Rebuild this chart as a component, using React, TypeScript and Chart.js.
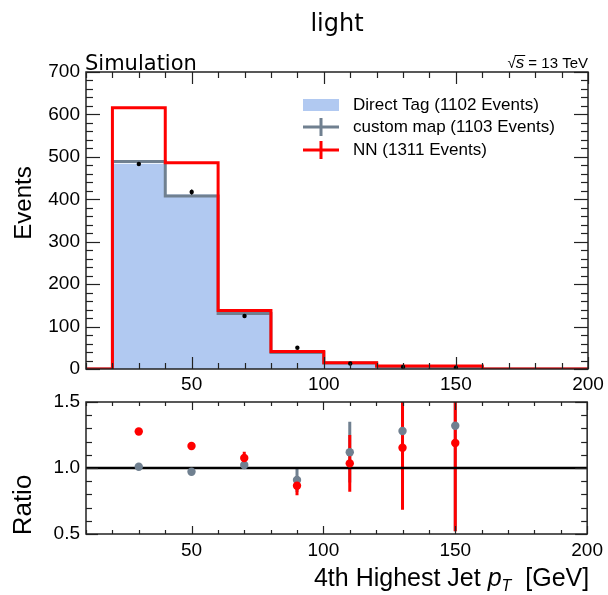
import React, { useEffect, useRef } from 'react';
import { Chart, registerables } from 'chart.js';

Chart.register(...registerables);

// ---------------- data ----------------
const X_MIN = 10;
const X_MAX = 200;
const binEdges = [20, 40, 60, 80, 100, 120, 140, 160];
const binCenters = [30, 50, 70, 90, 110, 130, 150];
const directTag = [484, 411, 129, 38, 13, 5, 3];
const customMap = [489, 408, 131, 39, 14, 6, 4];
const nnValues = [616, 486, 138, 41, 15, 7, 7];
const markerValues = [483, 417, 125, 50, 13, 5, 3];
const markerErrors = [3, 6, 3, 3, 1, 1, 1];
const ratioCustom = [1.01, 0.972, 1.023, 0.909, 1.12, 1.28, 1.32];
const ratioCustomErr = [0.01, 0.01, 0.03, 0.09, 0.23, 0.4, 0.8];
const ratioNN = [1.276, 1.167, 1.076, 0.866, 1.035, 1.154, 1.19];
const ratioNNErr = [0.01, 0.01, 0.047, 0.072, 0.215, 0.47, 0.67];
const xTickValues = [50, 100, 150, 200];
const yTickValuesTop = [0, 100, 200, 300, 400, 500, 600, 700];
const yTickValuesRatio = [0.5, 1.0, 1.5];
const legendLabels = ['Direct Tag (1102 Events)', 'custom map (1103 Events)', 'NN (1311 Events)'];
const titleText = 'light';
const simText = 'Simulation';
const yTitleTop = 'Events';
const yTitleRatio = 'Ratio';

// ---------------- styles ----------------
const FONT = '"Liberation Sans", Arial, Helvetica, sans-serif';
const DFONT = '"DejaVu Sans", sans-serif';
const BLUE = 'rgb(177, 201, 241)';
const GRAY = 'rgb(112, 128, 144)';
const RED = 'rgb(255, 0, 0)';
const RATIO_TOP = 380;

function stepPoints(vals: number[]) {
  const pts: { x: number; y: number }[] = [{ x: X_MIN, y: 0 }];
  vals.forEach((v, i) => pts.push({ x: binEdges[i], y: v }));
  pts.push({ x: binEdges[binEdges.length - 1], y: 0 });
  pts.push({ x: X_MAX, y: 0 });
  return pts;
}

function drawFrameAndTicks(chart: any, cfg: any) {
  const { ctx, chartArea: a, scales } = chart;
  const xs = scales.x;
  const ys = scales.y;
  ctx.save();
  ctx.strokeStyle = '#222';
  ctx.lineWidth = 1.2;
  const seg = (x1: number, y1: number, x2: number, y2: number) => {
    ctx.beginPath();
    ctx.moveTo(x1, y1);
    ctx.lineTo(x2, y2);
    ctx.stroke();
  };
  const nx = Math.round((xs.max - xs.min) / cfg.xMinor);
  for (let i = 0; i <= nx; i++) {
    const v = xs.min + i * cfg.xMinor;
    const px = Math.round(xs.getPixelForValue(v)) + 0.5;
    const major = xTickValues.some((m) => Math.abs(m - v) < 1e-6);
    const L = major ? cfg.xMajLen : cfg.xMinLen;
    seg(px, a.bottom, px, a.bottom - L);
    seg(px, a.top, px, a.top + L);
  }
  const ny = Math.round((ys.max - ys.min) / cfg.yMinor);
  for (let i = 0; i <= ny; i++) {
    const v = ys.min + i * cfg.yMinor;
    const py = Math.round(ys.getPixelForValue(v)) + 0.5;
    const major = cfg.yMajors.some((m: number) => Math.abs(m - v) < 1e-6);
    const L = major ? cfg.yMajLen : cfg.yMinLen;
    seg(a.left, py, a.left + L, py);
    seg(a.right, py, a.right - L, py);
  }
  ctx.lineWidth = 1.5;
  ctx.strokeRect(a.left, a.top, a.right - a.left, a.bottom - a.top);
  ctx.restore();
}

function drawRotated(ctx: any, text: string, x: number, y: number, font: string) {
  ctx.save();
  ctx.translate(x, y);
  ctx.rotate(-Math.PI / 2);
  ctx.font = font;
  ctx.fillStyle = '#000';
  ctx.textAlign = 'center';
  ctx.textBaseline = 'alphabetic';
  ctx.fillText(text, 0, 0);
  ctx.restore();
}

const topPlugin = {
  id: 'topDecor',
  afterDatasetsDraw(chart: any) {
    const { ctx, scales } = chart;
    const xs = scales.x;
    const ys = scales.y;
    ctx.save();
    ctx.strokeStyle = '#000';
    ctx.lineWidth = 1.5;
    binCenters.forEach((c, i) => {
      const px = xs.getPixelForValue(c);
      ctx.beginPath();
      ctx.moveTo(px, ys.getPixelForValue(markerValues[i] - markerErrors[i]));
      ctx.lineTo(px, ys.getPixelForValue(markerValues[i] + markerErrors[i]));
      ctx.stroke();
    });
    ctx.restore();
  },
  afterDraw(chart: any) {
    const { ctx, chartArea: a } = chart;
    drawFrameAndTicks(chart, {
      xMinor: 10, yMinor: 20, yMajors: yTickValuesTop,
      xMajLen: 12, xMinLen: 6, yMajLen: 14, yMinLen: 7,
    });
    ctx.save();
    ctx.fillStyle = '#000';
    // title
    ctx.font = `24px ${DFONT}`;
    ctx.textAlign = 'center';
    ctx.textBaseline = 'alphabetic';
    ctx.fillText(titleText, (a.left + a.right) / 2, 31);
    // Simulation
    ctx.font = `21px ${DFONT}`;
    ctx.textAlign = 'left';
    ctx.fillText(simText, a.left - 1, 70);
    // sqrt(s) = 13 TeV
    const parts = [
      { t: '\u221A', f: `15px ${FONT}` },
      { t: 's', f: `italic 17px ${FONT}` },
      { t: ' = 13 TeV', f: `15px ${FONT}` },
    ];
    let total = 0;
    const widths = parts.map((p) => {
      ctx.font = p.f;
      const w = ctx.measureText(p.t).width;
      total += w;
      return w;
    });
    let x = a.right - total;
    parts.forEach((p, i) => {
      ctx.font = p.f;
      ctx.fillText(p.t, x, 68);
      if (i === 1) {
        ctx.strokeStyle = '#000';
        ctx.lineWidth = 1;
        ctx.beginPath();
        ctx.moveTo(x - 1, 55.5);
        ctx.lineTo(x + widths[i] + 1, 55.5);
        ctx.stroke();
      }
      x += widths[i];
    });
    // legend
    const lx0 = 303;
    const lx1 = 339;
    const rows = [105, 127, 150];
    ctx.fillStyle = BLUE;
    ctx.fillRect(lx0, rows[0] - 6, lx1 - lx0, 12);
    [GRAY, RED].forEach((col, k) => {
      const yy = rows[k + 1];
      ctx.strokeStyle = col;
      ctx.lineWidth = 3;
      ctx.beginPath();
      ctx.moveTo(lx0, yy);
      ctx.lineTo(lx1, yy);
      ctx.moveTo((lx0 + lx1) / 2, yy - 9);
      ctx.lineTo((lx0 + lx1) / 2, yy + 9);
      ctx.stroke();
    });
    ctx.fillStyle = '#000';
    ctx.font = `17px ${FONT}`;
    ctx.textAlign = 'left';
    ctx.textBaseline = 'middle';
    legendLabels.forEach((lab, k) => ctx.fillText(lab, 353, rows[k]));
    ctx.restore();
    drawRotated(ctx, yTitleTop, 31, 203, `24px ${FONT}`);
  },
};

const ratioPlugin = {
  id: 'ratioDecor',
  beforeDatasetsDraw(chart: any) {
    const { ctx, chartArea: a, scales } = chart;
    const xs = scales.x;
    const ys = scales.y;
    ctx.save();
    ctx.beginPath();
    ctx.rect(a.left, a.top, a.right - a.left, a.bottom - a.top);
    ctx.clip();
    ctx.lineWidth = 3;
    const bars = (vals: number[], errs: number[], col: string) => {
      ctx.strokeStyle = col;
      binCenters.forEach((c, i) => {
        const px = xs.getPixelForValue(c);
        ctx.beginPath();
        ctx.moveTo(px, ys.getPixelForValue(vals[i] - errs[i]));
        ctx.lineTo(px, ys.getPixelForValue(vals[i] + errs[i]));
        ctx.stroke();
      });
    };
    bars(ratioCustom, ratioCustomErr, GRAY);
    bars(ratioNN, ratioNNErr, RED);
    ctx.strokeStyle = '#000';
    ctx.lineWidth = 2.5;
    const py = ys.getPixelForValue(1.0);
    ctx.beginPath();
    ctx.moveTo(a.left, py);
    ctx.lineTo(a.right, py);
    ctx.stroke();
    ctx.restore();
  },
  afterDraw(chart: any) {
    const { ctx, chartArea: a } = chart;
    drawFrameAndTicks(chart, {
      xMinor: 10, yMinor: 0.1, yMajors: yTickValuesRatio,
      xMajLen: 8, xMinLen: 4, yMajLen: 12, yMinLen: 6,
    });
    drawRotated(ctx, yTitleRatio, 31, 505 - RATIO_TOP, `26px ${FONT}`);
    // x title
    ctx.save();
    ctx.fillStyle = '#000';
    ctx.textBaseline = 'alphabetic';
    ctx.textAlign = 'left';
    const parts = [
      { t: '4th Highest Jet ', f: `25px ${FONT}`, dy: 0 },
      { t: 'p', f: `italic 25px ${FONT}`, dy: 0 },
      { t: 'T', f: `italic 16px ${FONT}`, dy: 5 },
      { t: '  [GeV]', f: `25px ${FONT}`, dy: 0 },
    ];
    let total = 0;
    const widths = parts.map((p) => {
      ctx.font = p.f;
      const w = ctx.measureText(p.t).width;
      total += w;
      return w;
    });
    let x = a.right + 2 - total;
    const base = 586 - RATIO_TOP;
    parts.forEach((p, i) => {
      ctx.font = p.f;
      ctx.fillText(p.t, x, base + p.dy);
      x += widths[i];
    });
    ctx.restore();
  },
};

const tickFont = { family: FONT, size: 19 };

export default function App() {
  const topRef = useRef<HTMLCanvasElement>(null);
  const botRef = useRef<HTMLCanvasElement>(null);

  useEffect(() => {
    const top = new Chart(topRef.current as HTMLCanvasElement, {
      type: 'line',
      data: {
        datasets: [
          {
            label: 'markers',
            data: binCenters.map((x, i) => ({ x, y: markerValues[i] })),
            showLine: false,
            pointRadius: 2.2,
            pointBackgroundColor: '#000',
            pointBorderWidth: 0,
            order: 0,
          } as any,
          {
            label: legendLabels[2],
            data: stepPoints(nnValues),
            stepped: 'before',
            borderColor: RED,
            borderWidth: 3,
            pointRadius: 0,
            fill: false,
            order: 1,
          },
          {
            label: legendLabels[1],
            data: stepPoints(customMap),
            stepped: 'before',
            borderColor: GRAY,
            borderWidth: 3,
            pointRadius: 0,
            fill: false,
            order: 2,
          },
          {
            label: legendLabels[0],
            data: stepPoints(directTag),
            stepped: 'before',
            borderWidth: 0,
            borderColor: 'rgba(0,0,0,0)',
            backgroundColor: BLUE,
            pointRadius: 0,
            fill: 'origin',
            order: 3,
          },
        ],
      },
      options: {
        animation: false,
        responsive: false,
        layout: { padding: { left: 0, right: 20, top: 72, bottom: 0 } },
        plugins: { legend: { display: false }, tooltip: { enabled: false }, title: { display: false } },
        scales: {
          x: {
            type: 'linear',
            min: X_MIN,
            max: X_MAX,
            grid: { display: false, drawTicks: false },
            border: { display: false },
            afterBuildTicks: (s: any) => { s.ticks = xTickValues.map((v) => ({ value: v })); },
            afterFit: (s: any) => { s.height = 26; },
            ticks: { font: tickFont, color: '#000', padding: 4, maxRotation: 0, autoSkip: false },
          },
          y: {
            type: 'linear',
            min: 0,
            max: 700,
            grid: { display: false, drawTicks: false },
            border: { display: false },
            afterBuildTicks: (s: any) => { s.ticks = yTickValuesTop.map((v) => ({ value: v })); },
            afterFit: (s: any) => { s.width = 86; },
            ticks: { font: tickFont, color: '#000', padding: 6, autoSkip: false },
          },
        },
      } as any,
      plugins: [topPlugin],
    });

    const bot = new Chart(botRef.current as HTMLCanvasElement, {
      type: 'line',
      data: {
        datasets: [
          {
            label: 'NN ratio',
            data: binCenters.map((x, i) => ({ x, y: ratioNN[i] })),
            showLine: false,
            pointRadius: 4.2,
            pointBackgroundColor: RED,
            pointBorderWidth: 0,
            order: 1,
          },
          {
            label: 'custom ratio',
            data: binCenters.map((x, i) => ({ x, y: ratioCustom[i] })),
            showLine: false,
            pointRadius: 4.2,
            pointBackgroundColor: GRAY,
            pointBorderWidth: 0,
            order: 2,
          },
        ],
      },
      options: {
        animation: false,
        responsive: false,
        layout: { padding: { left: 0, right: 20, top: 402 - RATIO_TOP, bottom: 0 } },
        plugins: { legend: { display: false }, tooltip: { enabled: false }, title: { display: false } },
        scales: {
          x: {
            type: 'linear',
            min: X_MIN,
            max: X_MAX,
            grid: { display: false, drawTicks: false },
            border: { display: false },
            afterBuildTicks: (s: any) => { s.ticks = xTickValues.map((v) => ({ value: v })); },
            afterFit: (s: any) => { s.height = 595 - 534; },
            ticks: { font: tickFont, color: '#000', padding: 5, maxRotation: 0, autoSkip: false },
          },
          y: {
            type: 'linear',
            min: 0.5,
            max: 1.5,
            grid: { display: false, drawTicks: false },
            border: { display: false },
            afterBuildTicks: (s: any) => { s.ticks = yTickValuesRatio.map((v) => ({ value: v })); },
            afterFit: (s: any) => { s.width = 86; },
            ticks: {
              font: tickFont,
              color: '#000',
              padding: 6,
              autoSkip: false,
              callback: (v: any) => Number(v).toFixed(1),
            },
          },
        },
      } as any,
      plugins: [ratioPlugin],
    });

    return () => {
      top.destroy();
      bot.destroy();
    };
  }, []);

  return (
    <div style={{ position: 'fixed', left: 0, top: 0, width: 608, height: 595, background: '#fff' }}>
      <canvas ref={topRef} width={608} height={395} style={{ position: 'absolute', left: 0, top: 0, width: 608, height: 395 }} />
      <canvas
        ref={botRef}
        width={608}
        height={595 - RATIO_TOP}
        style={{ position: 'absolute', left: 0, top: RATIO_TOP, width: 608, height: 595 - RATIO_TOP }}
      />
    </div>
  );
}
